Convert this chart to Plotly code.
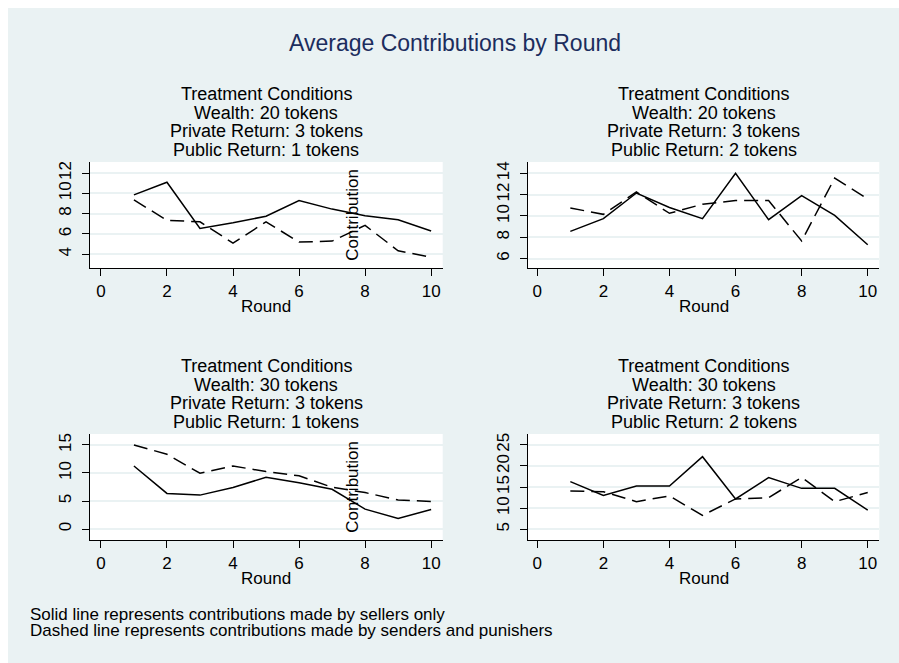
import plotly.graph_objects as go

# page body keeps an 8px margin on the left/top only, the figure fills the rest
OFF = 8
W, H = 899 - OFF, 663 - OFF

rounds = [1, 2, 3, 4, 5, 6, 7, 8, 9, 10]

p1_solid = [9.85, 11.1, 6.55, 7.1, 7.75, 9.3, 8.45, 7.8, 7.4, 6.3]
p1_dashed = [9.35, 7.35, 7.2, 5.1, 7.2, 5.2, 5.3, 6.85, 4.35, 3.7]
p2_solid = [8.55, 9.75, 12.15, 10.8, 9.75, 14.0, 9.65, 11.9, 10.05, 7.3]
p2_dashed = [10.75, 10.15, 12.25, 10.25, 11.1, 11.45, 11.45, 7.65, 13.55, 11.6]
p3_solid = [11.25, 6.35, 6.05, 7.4, 9.25, 8.25, 7.1, 3.55, 1.9, 3.5]
p3_dashed = [15.0, 13.35, 9.95, 11.25, 10.25, 9.5, 7.45, 6.5, 5.2, 4.9]
p4_solid = [16.3, 13.0, 15.25, 15.25, 22.2, 12.2, 17.25, 14.7, 14.7, 9.55]
p4_dashed = [14.1, 13.9, 11.55, 12.9, 8.3, 12.2, 12.5, 17.3, 11.55, 13.7]

x_ticks = [0, 2, 4, 6, 8, 10]
y_ticks = [[4, 6, 8, 10, 12], [6, 8, 10, 12, 14], [0, 5, 10, 15], [5, 10, 15, 20, 25]]
y_ranges = [[2.65, 13.09], [5.12, 15.06], [-1.96, 16.96], [2.46, 27.58]]
x_ranges = [[-0.33, 10.35], [-0.29, 10.35], [-0.33, 10.35], [-0.29, 10.35]]

panel_titles = [
    ["Treatment Conditions", "Wealth: 20 tokens", "Private Return: 3 tokens", "Public Return: 1 tokens"],
    ["Treatment Conditions", "Wealth: 20 tokens", "Private Return: 3 tokens", "Public Return: 2 tokens"],
    ["Treatment Conditions", "Wealth: 30 tokens", "Private Return: 3 tokens", "Public Return: 1 tokens"],
    ["Treatment Conditions", "Wealth: 30 tokens", "Private Return: 3 tokens", "Public Return: 2 tokens"],
]
main_title = "Average Contributions by Round"
x_title = "Round"
y_title = "Contribution"
notes = ["Solid line represents contributions made by sellers only",
         "Dashed line represents contributions made by senders and punishers"]

solids = [p1_solid, p2_solid, p3_solid, p4_solid]
dasheds = [p1_dashed, p2_dashed, p3_dashed, p4_dashed]

# window-pixel boxes of plot areas (left, right, top, bottom)
boxes = [(90, 442.7, 162, 268), (527.7, 879.3, 162, 268),
         (90, 442.7, 434, 540), (527.7, 879.3, 434, 540)]

BG = "#EAF2F3"
FONT = "Liberation Sans, Arial, sans-serif"
FS = 17

def px(x):
    return (x - OFF) / W

def py(y):
    return 1 - (y - OFF) / H

fig = go.Figure()
layout = dict(
    width=W, height=H,
    margin=dict(l=0, r=0, t=0, b=0),
    paper_bgcolor=BG, plot_bgcolor="white",
    showlegend=False,
    font=dict(family=FONT, size=FS, color="black"),
)
annotations = []
for i in range(4):
    l, r, t, b = boxes[i]
    xa = "xaxis" if i == 0 else f"xaxis{i+1}"
    ya = "yaxis" if i == 0 else f"yaxis{i+1}"
    xr = "x" if i == 0 else f"x{i+1}"
    yr = "y" if i == 0 else f"y{i+1}"
    fig.add_trace(go.Scatter(x=rounds, y=solids[i], mode="lines", xaxis=xr, yaxis=yr,
                             line=dict(color="black", width=1.5)))
    fig.add_trace(go.Scatter(x=rounds, y=dasheds[i], mode="lines", xaxis=xr, yaxis=yr,
                             line=dict(color="black", width=1.5, dash="14px,7px")))
    layout[xa] = dict(domain=[px(l), px(r)], range=x_ranges[i], anchor=yr,
                      tickvals=x_ticks, ticks="outside", ticklen=7, tickcolor="black",
                      showline=True, linecolor="black", linewidth=1.2,
                      showgrid=False, zeroline=False,
                      tickfont=dict(size=FS, color="black"))
    layout[ya] = dict(domain=[py(b), py(t)], range=y_ranges[i], anchor=xr,
                      tickvals=y_ticks[i], ticks="outside", ticklen=7, tickcolor="black",
                      showline=True, linecolor="black", linewidth=1.2,
                      showgrid=True, gridcolor=BG, gridwidth=1.5, zeroline=False,
                      tickangle=-90, ticklabelstandoff=4,
                      tickfont=dict(size=FS, color="black"))
    cx = (l + r) / 2
    for k, line in enumerate(panel_titles[i]):
        annotations.append(dict(text=line, x=px(cx), y=py(t - 68 + 18.7 * k),
                                xref="paper", yref="paper", xanchor="center", yanchor="middle",
                                showarrow=False, font=dict(size=18, color="black")))
    annotations.append(dict(text=x_title, x=px(cx), y=py(b + 38.5), xref="paper", yref="paper",
                            xanchor="center", yanchor="middle", showarrow=False,
                            font=dict(size=FS, color="black")))
    if i in (0, 2):
        annotations.append(dict(text=y_title, x=px(351.7), y=py((t + b) / 2), xref="paper", yref="paper",
                                xanchor="center", yanchor="middle", showarrow=False, textangle=-90,
                                font=dict(size=FS, color="black")))

annotations.append(dict(text=main_title, x=px(455), y=py(43), xref="paper", yref="paper",
                        xanchor="center", yanchor="middle", showarrow=False,
                        font=dict(size=23, color="#1C2D5E")))
for k, line in enumerate(notes):
    annotations.append(dict(text=line, x=px(28), y=py(614 + 16 * k), xref="paper", yref="paper",
                            xanchor="left", yanchor="middle", showarrow=False,
                            font=dict(size=17, color="black")))
layout["annotations"] = annotations
fig.update_layout(**layout)
fig.write_html(
    "out.html",
    post_script=("document.documentElement.style.overflow='hidden';"
                 "document.body.style.overflow='hidden';"
                 "document.body.style.margin='8px 0 0 8px';"),
)
